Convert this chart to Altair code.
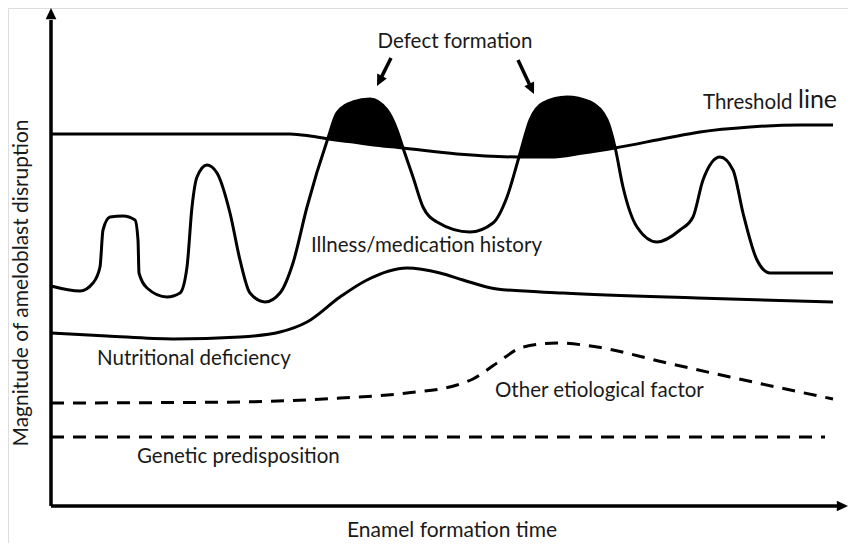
import altair as alt
import pandas as pd

# ---- curves (x = enamel formation time, y = magnitude of disruption) ----
ill_x = [0, 29, 42, 49, 52, 59, 72, 84, 87, 88, 96, 116, 129, 136, 141, 146, 156, 166, 179, 189, 199,
         214, 229, 242, 256, 277, 286, 302, 319, 336, 346, 352, 362, 372, 386, 419, 442, 456, 468,
         479, 492, 516, 539, 556, 564, 572, 586, 606, 629, 642, 652, 669, 682, 692, 706, 719, 782]
ill_y = [220, 215, 223, 239, 276, 289, 290, 286, 266, 233, 218, 209, 213, 239, 299, 329, 341, 333, 293, 246, 213,
         204, 213, 243, 299, 368, 393, 404, 407, 396, 376, 358, 329, 299, 284, 274, 283, 309, 349,
         386, 403, 409, 404, 386, 359, 319, 279, 264, 276, 289, 326, 349, 336, 293, 246, 233, 233]

thr_x = [0, 239, 259, 277, 302, 319, 352, 406, 468, 499, 532, 564, 616, 649, 699, 749, 782]
thr_y = [372, 372, 370, 367, 364, 361.5, 358, 352, 349, 349, 353, 358, 368, 374, 379, 381, 381]

nut_x = [0, 56, 122, 189, 229, 256, 289, 316, 356, 389, 412, 446, 512, 646, 782]
nut_y = [173, 170, 167, 169, 174, 184, 209, 226, 238, 233, 226, 217, 213, 208, 204]

oth_x = [0, 189, 289, 356, 406, 422, 446, 472, 506, 546, 612, 679, 782]
oth_y = [103, 104, 108, 113, 121, 127, 143, 159, 163, 159, 144, 129, 107]

gen_x = [0, 774]
gen_y = [69, 69]

# ---- defect regions (illness above threshold) ----
d1_x = [277, 286, 302, 319, 336, 346, 352]
d1_top = [367, 393, 404, 407, 396, 376, 358]
d1_bot = [367, 366, 364, 361.5, 360, 359, 358]

d2_x = [468, 479, 492, 516, 539, 556, 564]
d2_top = [349, 386, 403, 409, 404, 386, 358]
d2_bot = [349, 349, 349, 351, 354, 356.5, 358]

# ---- arrows ----
shaft_x = [0, 0, 340, 467]
shaft_y = [0, 0, 448, 446]
shaft_x2 = [0, 787, 328.7, 480.4]
shaft_y2 = [486, 0, 425.4, 417.4]
head_x = [0, 797, 326, 483]
head_y = [498, 0, 420, 412]
head_angle = [180, 270, 26.6, 334.8]

# ---- labels ----
lab_text = ["Threshold", "Illness/medication history", "Nutritional deficiency",
            "Other etiological factor", "Genetic predisposition"]
lab_x = [652, 260, 46, 444, 86]
lab_y = [397, 254, 141, 109, 43]

W, H = 840, 535
xs = alt.Scale(domain=[-43, 797], nice=False, zero=False)
ys = alt.Scale(domain=[-37, 498], nice=False, zero=False)
FONT = "Lato"


def enc_xy(xf="x", yf="y"):
    return dict(x=alt.X(f"{xf}:Q", scale=xs, axis=None),
                y=alt.Y(f"{yf}:Q", scale=ys, axis=None))


def curve(xv, yv, dash=None, interp="monotone"):
    df = pd.DataFrame({"x": xv, "y": yv})
    kw = dict(color="black", strokeWidth=3, interpolate=interp)
    if dash:
        kw["strokeDash"] = dash
    return alt.Chart(df).mark_line(**kw).encode(**enc_xy())


def defect(xv, top, bot):
    df = pd.DataFrame({"x": xv, "top": top, "bot": bot})
    return alt.Chart(df).mark_area(color="black", interpolate="monotone", opacity=1).encode(
        x=alt.X("x:Q", scale=xs, axis=None),
        y=alt.Y("top:Q", scale=ys, axis=None),
        y2="bot:Q",
    )


layers = [
    defect(d1_x, d1_top, d1_bot),
    defect(d2_x, d2_top, d2_bot),
    curve(thr_x, thr_y),
    curve(ill_x, ill_y),
    curve(nut_x, nut_y),
    curve(oth_x, oth_y, dash=[13, 9]),
    curve(gen_x, gen_y, dash=[13, 9], interp="linear"),
]

shafts = pd.DataFrame({"x": shaft_x, "y": shaft_y, "x2": shaft_x2, "y2": shaft_y2})
layers.append(alt.Chart(shafts).mark_rule(color="black", strokeWidth=3.5).encode(
    x=alt.X("x:Q", scale=xs, axis=None), y=alt.Y("y:Q", scale=ys, axis=None),
    x2="x2:Q", y2="y2:Q"))

heads = pd.DataFrame({"x": head_x, "y": head_y, "angle": head_angle})
layers.append(alt.Chart(heads).mark_point(
    shape="M0,0 L-0.48,-1 L0.48,-1 Z", filled=True, color="black", opacity=1,
    size=500, strokeWidth=0).encode(
    **enc_xy(), angle=alt.Angle("angle:Q", scale=None)))

labels = pd.DataFrame({"x": lab_x, "y": lab_y, "t": lab_text})
layers.append(alt.Chart(labels).mark_text(
    font=FONT, fontSize=20.5, align="left", baseline="alphabetic", color="#1a1a1a").encode(
    **enc_xy(), text="t:N"))

line_lab = pd.DataFrame({"x": [747], "y": [398], "t": ["line"]})
layers.append(alt.Chart(line_lab).mark_text(
    font=FONT, fontSize=25, align="left", baseline="alphabetic", color="#1a1a1a").encode(
    **enc_xy(), text="t:N"))

defect_lab = pd.DataFrame({"x": [404], "y": [458], "t": ["Defect formation"]})
layers.append(alt.Chart(defect_lab).mark_text(
    font=FONT, fontSize=20.5, align="center", baseline="alphabetic", color="#1a1a1a").encode(
    **enc_xy(), text="t:N"))

xt = pd.DataFrame({"x": [401], "y": [-31], "t": ["Enamel formation time"]})
layers.append(alt.Chart(xt).mark_text(
    font=FONT, fontSize=21, align="center", baseline="alphabetic", color="#1a1a1a").encode(
    **enc_xy(), text="t:N"))

yt = pd.DataFrame({"x": [-23], "y": [223], "t": ["Magnitude of ameloblast disruption"]})
layers.append(alt.Chart(yt).mark_text(
    font=FONT, fontSize=21, align="center", baseline="alphabetic", angle=270, color="#1a1a1a").encode(
    **enc_xy(), text="t:N"))

chart = alt.layer(*layers).properties(
    width=W, height=H, padding=0, autosize=alt.AutoSizeParams(type="none")
).configure_view(stroke=None).configure(background="white")

chart.save("out.html", embed_options={"renderer": "svg", "actions": False})
